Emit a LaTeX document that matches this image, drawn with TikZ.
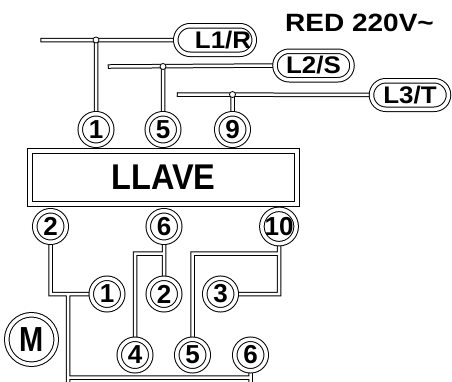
\documentclass[tikz,border=0pt]{standalone}
\usepackage{fontspec}
\setmainfont{Liberation Sans}
\pgfdeclarelayer{background}
\pgfsetlayers{background,main}
\tikzset{
  term/.style={circle, draw, double, double distance=3.5pt, line width=1pt, fill=white,
    minimum size=31.5pt, inner sep=0pt, font=\fontsize{26}{26}\selectfont\bfseries},
  pill/.style={rectangle, rounded corners=14.25pt, draw, double, double distance=3.5pt,
    line width=1pt, fill=white, minimum height=28.5pt, minimum width=77pt, inner sep=0pt,
    font=\fontsize{24}{24}\selectfont\bfseries},
  boxstyle/.style={rectangle, draw, double, double distance=4pt, line width=1pt, fill=white,
    minimum width=267pt, minimum height=53pt, inner sep=0pt,
    font=\fontsize{32.5}{32.5}\selectfont\bfseries},
  wireblack/.style={line width=4.5pt, black, line cap=rect, line join=miter},
  wirewhite/.style={line width=2.5pt, white, line cap=rect, line join=miter},
  jdot/.style={circle, draw, line width=0.8pt, fill=white, minimum size=6pt, inner sep=0pt},
  title/.style={font=\fontsize{25}{25}\selectfont\bfseries, xscale=1.12, inner sep=0pt}
}
\begin{document}
\begin{tikzpicture}[x=1pt,y=-1pt]
\useasboundingbox (0,0) rectangle (452,381);

% title
\node[title] (red) at (359.5,22.5) {RED 220V\textasciitilde};

% supply pills
\node[pill, minimum width=78.5pt] (p1) at (215,40) {\hspace*{16pt}\scalebox{1.08}[1]{L1/R}};
\node[pill] (p2) at (313.5,65.5) {\scalebox{1.08}[1]{L2/S}};
\node[pill] (p3) at (410,95) {\scalebox{1.08}[1]{L3/T}};

% switch box
\node[boxstyle] (llave) at (163.5,177.5) {\scalebox{1}[1.1]{LLAVE}};

% top terminals
\node[term] (c1) at (96,129.5) {1};
\node[term] (c5) at (163,129.5) {5};
\node[term] (c9) at (232.5,129.5) {9};

% bottom terminals of switch
\node[term] (c2) at (50.5,226.5) {2};
\node[term] (c6) at (164,226.5) {6};
\node[term] (c10) at (279,226.5) {10};

% motor terminals
\node[term] (m1) at (107,294) {1};
\node[term] (m2) at (164,294) {2};
\node[term] (m3) at (220.5,294) {3};
\node[term] (b4) at (135,355) {4};
\node[term] (b5) at (192.5,355) {5};
\node[term] (b6) at (250.5,355) {6};

\node[term, minimum size=49.5pt, font=\fontsize{29}{29}\selectfont\bfseries] (mot) at (31.5,339.5) {\scalebox{1}[1.2]{M}};

% wire coordinates
\coordinate (w1) at (42.7,40);
\coordinate (j1) at (96,40);
\coordinate (w2) at (110,66.5);
\coordinate (j2) at (163,66.5);
\coordinate (w3) at (179,94.5);
\coordinate (j3) at (232.5,94.5);
\coordinate (k1) at (68,294);
\coordinate (k1b) at (68,386);
\coordinate (h1) at (68,377.5);
\coordinate (t6) at (164,253.5);
\coordinate (t10) at (279,253.5);

\begin{pgfonlayer}{background}
\foreach \st in {wireblack,wirewhite}{
  \draw[\st] (w1) -- (p1.west) (j1) -- (c1)
             (w2) -- (p2.west) (j2) -- (c5)
             (w3) -- (p3.west) (j3) -- (c9)
             (c2) |- (m1) (k1) -- (k1b)
             (h1) -- (b6 |- h1) (b6) -- (b6 |- k1b)
             (c6) -- (m2) (t6) -| (b4)
             (c10) |- (m3) (t10) -| (b5);
}
\end{pgfonlayer}

% junction dots
\node[jdot] (d1) at (j1) {};
\node[jdot] (d2) at (j2) {};
\node[jdot] (d3) at (j3) {};
\end{tikzpicture}
\end{document}
